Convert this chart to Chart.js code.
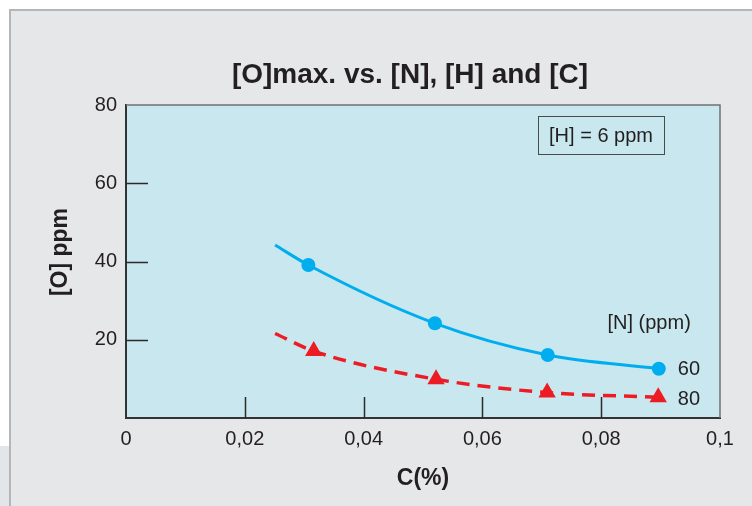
<!DOCTYPE html>
<html>
<head>
<meta charset="utf-8">
<script src="https://cdn.jsdelivr.net/npm/chart.js@4"></script>
<style>
  html, body { margin: 0; padding: 0; background: #ffffff; }
  #frame {
    position: absolute; left: 9px; top: 9px; width: 743px; height: 497px;
    background: #e6e7e9; border-left: 2px solid #b4b6b8; border-top: 2px solid #b4b6b8;
    box-sizing: border-box;
  }
  #corner { position: absolute; left: 0; top: 446px; width: 9px; height: 60px; background: #e2e6e9; }
  #wrap { position: absolute; left: 0; top: 0; width: 752px; height: 506px; }
</style>
</head>
<body>
<div id="frame"></div>
<div id="corner"></div>
<div id="wrap"><canvas id="chart" width="752" height="506"></canvas></div>
<script>
// C (%) on x, [O] ppm on y
const xTicks = [0, 0.02, 0.04, 0.06, 0.08, 0.1];
const yTicks = [0, 20, 40, 60, 80];

// [N] = 60 ppm, first entry is where the fitted curve starts (no marker)
const c60 = [0.0251, 0.0307, 0.0520, 0.0710, 0.0897];
const o60 = [44.2, 39.1, 24.2, 16.1, 12.6];

// [N] = 80 ppm, same idea
const c80 = [0.0251, 0.0316, 0.0522, 0.0709, 0.0896];
const o80 = [21.6, 17.1, 9.9, 6.5, 5.3];

const seriesNames = ['60', '80'];
const legendTitle = '[N] (ppm)';
const noteText = '[H] = 6 ppm';
const chartTitle = '[O]max. vs. [N], [H] and [C]';

const FONT = '"Liberation Sans", Arial, Helvetica, sans-serif';
const TEXT = '#231f20';
const BLUE = '#00aeef';
const RED = '#ed1c24';

function toPoints(xs, ys) {
  return xs.map((x, i) => ({ x: x, y: ys[i] }));
}

const decor = {
  id: 'decor',
  beforeDraw(chart) {
    const { ctx, chartArea: a } = chart;
    ctx.save();
    ctx.fillStyle = '#c8e7ee';
    ctx.fillRect(a.left, a.top, a.right - a.left, a.bottom - a.top);
    ctx.restore();
  },
  beforeDatasetsDraw(chart) {
    const { ctx, chartArea: a, scales } = chart;
    ctx.save();
    // top and right frame of the plot
    ctx.strokeStyle = '#707274';
    ctx.lineWidth = 1.5;
    ctx.beginPath();
    ctx.moveTo(a.left, a.top);
    ctx.lineTo(a.right, a.top);
    ctx.lineTo(a.right, a.bottom);
    ctx.stroke();
    // inward tick marks
    ctx.strokeStyle = '#2a2a2a';
    ctx.lineWidth = 1.5;
    ctx.beginPath();
    xTicks.slice(1, -1).forEach(v => {
      const px = Math.round(scales.x.getPixelForValue(v)) + 0.5;
      ctx.moveTo(px, a.bottom);
      ctx.lineTo(px, a.bottom - 21);
    });
    yTicks.slice(1, -1).forEach(v => {
      const py = Math.round(scales.y.getPixelForValue(v)) + 0.5;
      ctx.moveTo(a.left, py);
      ctx.lineTo(a.left + 22, py);
    });
    ctx.stroke();
    ctx.restore();
  },
  afterDraw(chart) {
    const { ctx, chartArea: a } = chart;
    ctx.save();
    ctx.fillStyle = TEXT;

    // main title
    ctx.font = 'bold 28px ' + FONT;
    ctx.textAlign = 'center';
    ctx.textBaseline = 'middle';
    ctx.fillText(chartTitle, 410, 75);

    // y axis title
    ctx.save();
    ctx.translate(61, 252);
    ctx.rotate(-Math.PI / 2);
    ctx.font = 'bold 23px ' + FONT;
    ctx.fillText('[O] ppm', 0, 0);
    ctx.restore();

    // series labels next to the last marker
    ctx.font = '20px ' + FONT;
    ctx.textAlign = 'left';
    const ends = chart.data.datasets.map((ds, i) => {
      const meta = chart.getDatasetMeta(i);
      return meta.data[meta.data.length - 1];
    });
    ctx.fillText(seriesNames[0], ends[0].x + 19, ends[0].y + 1);
    ctx.fillText(seriesNames[1], ends[0].x + 19, ends[1].y + 2);
    ctx.textAlign = 'right';
    ctx.fillText(legendTitle, ends[0].x + 32, ends[0].y - 45);

    // note box
    const bw = 126, bh = 38;
    const bx = a.right - 56 - bw, by = a.top + 11;
    ctx.strokeStyle = '#4a4a4a';
    ctx.lineWidth = 1;
    ctx.strokeRect(bx + 0.5, by + 0.5, bw, bh);
    ctx.textAlign = 'center';
    ctx.fillText(noteText, bx + bw / 2, by + bh / 2 + 1);
    ctx.restore();
  }
};

new Chart(document.getElementById('chart'), {
  type: 'line',
  data: {
    datasets: [
      {
        label: seriesNames[0],
        data: toPoints(c60, o60),
        borderColor: BLUE,
        backgroundColor: BLUE,
        borderWidth: 3,
        cubicInterpolationMode: 'monotone',
        pointStyle: 'circle',
        pointRadius: ctx => ctx.dataIndex === 0 ? 0 : 7,
        pointBorderWidth: 0
      },
      {
        label: seriesNames[1],
        data: toPoints(c80, o80),
        borderColor: RED,
        backgroundColor: RED,
        borderWidth: 3.5,
        borderDash: [13, 8],
        cubicInterpolationMode: 'monotone',
        pointStyle: 'triangle',
        pointRadius: ctx => ctx.dataIndex === 0 ? 0 : 10,
        pointBorderWidth: 0
      }
    ]
  },
  options: {
    responsive: false,
    animation: false,
    layout: { padding: { top: 105, right: 32, left: 0, bottom: 0 } },
    plugins: {
      legend: { display: false },
      tooltip: { enabled: false },
      title: { display: false }
    },
    scales: {
      x: {
        type: 'linear',
        min: 0,
        max: 0.1,
        afterFit: s => { s.height = 88; },
        afterBuildTicks: s => { s.ticks = xTicks.map(v => ({ value: v })); },
        grid: { display: false, drawTicks: false },
        border: { display: true, color: '#333333', width: 2 },
        ticks: {
          padding: 9,
          color: TEXT,
          font: { family: FONT, size: 20 },
          callback: v => String(+v.toFixed(2)).replace('.', ',')
        },
        title: {
          display: true,
          text: 'C(%)',
          color: TEXT,
          font: { family: FONT, size: 23, weight: 'bold' },
          padding: { top: 0, bottom: 14 }
        }
      },
      y: {
        type: 'linear',
        min: 0,
        max: 80,
        afterFit: s => { s.width = 126; },
        afterBuildTicks: s => { s.ticks = yTicks.map(v => ({ value: v })); },
        grid: { display: false, drawTicks: false },
        border: { display: true, color: '#333333', width: 2 },
        ticks: {
          padding: 9,
          color: TEXT,
          font: { family: FONT, size: 20 },
          callback: v => v === 0 ? '' : String(v)
        }
      }
    }
  },
  plugins: [decor]
});
</script>
</body>
</html>
